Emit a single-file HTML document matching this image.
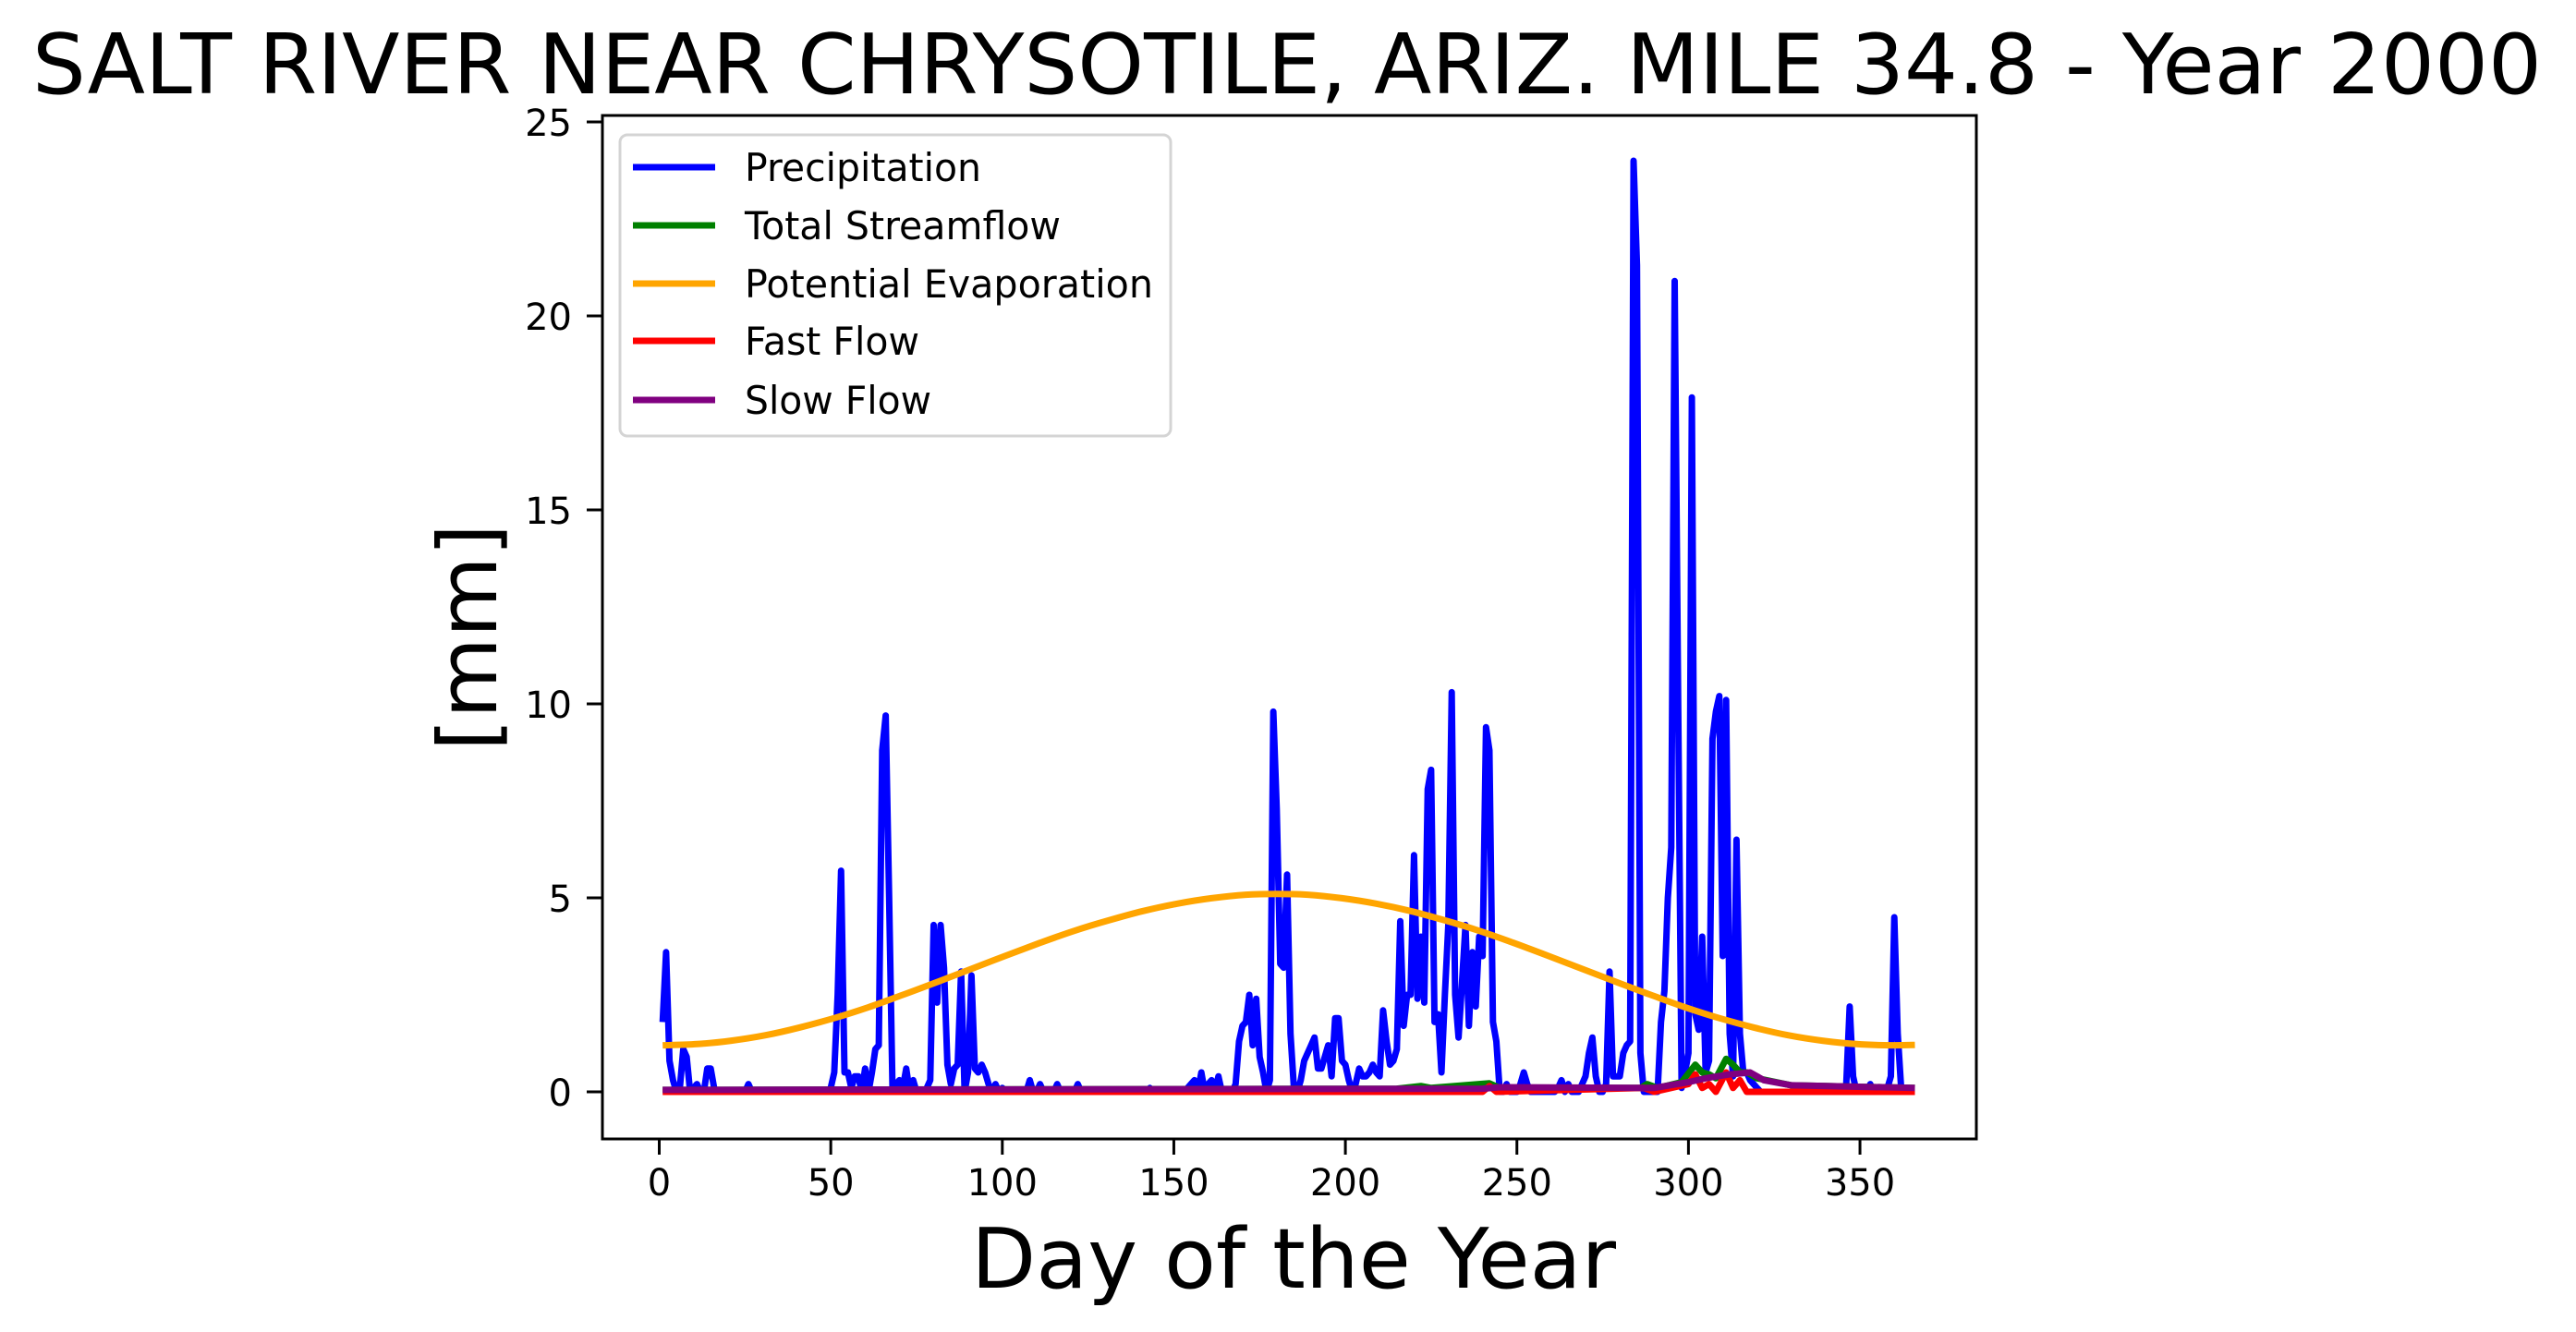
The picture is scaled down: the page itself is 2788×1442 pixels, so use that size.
<!DOCTYPE html>
<html><head><meta charset="utf-8"><style>
html,body{margin:0;padding:0;background:#fff;}
svg{display:block;font-family:"DejaVu Sans","Liberation Sans",sans-serif;}
</style></head><body>
<svg id="chart" width="2788" height="1442" viewBox="0 0 2788 1442" xmlns="http://www.w3.org/2000/svg">
<rect width="2788" height="1442" fill="#fff"/>
<text x="35" y="101" font-size="90" textLength="2716" lengthAdjust="spacingAndGlyphs">SALT RIVER NEAR CHRYSOTILE, ARIZ. MILE 34.8 - Year 2000</text>
<g id="plot"></g>
<g id="xticks"></g>
<g id="yticks"></g>
<rect x="652" y="125" width="1487" height="1108" fill="none" stroke="#000" stroke-width="3"/>
<text x="1400" y="1394" font-size="90" text-anchor="middle" textLength="698" lengthAdjust="spacingAndGlyphs">Day of the Year</text>
<text transform="translate(537,690) rotate(-90)" x="0" y="0" font-size="88" text-anchor="middle" textLength="246" lengthAdjust="spacingAndGlyphs">[mm]</text>
<g id="legend">
<rect x="671" y="146" width="596" height="326" rx="8" fill="#fff" fill-opacity="0.8" stroke="#d4d4d4" stroke-width="3"/>
<g><line x1="685" y1="181" x2="774" y2="181" stroke="#0000ff" stroke-width="7"/><text x="806" y="196" font-size="42" textLength="256" lengthAdjust="spacingAndGlyphs">Precipitation</text></g>
<g><line x1="685" y1="244" x2="774" y2="244" stroke="#008000" stroke-width="7"/><text x="806" y="259" font-size="42" textLength="342" lengthAdjust="spacingAndGlyphs">Total Streamflow</text></g>
<g><line x1="685" y1="307" x2="774" y2="307" stroke="#ffa500" stroke-width="7"/><text x="806" y="322" font-size="42" textLength="442" lengthAdjust="spacingAndGlyphs">Potential Evaporation</text></g>
<g><line x1="685" y1="369" x2="774" y2="369" stroke="#ff0000" stroke-width="7"/><text x="806" y="384" font-size="42" textLength="189" lengthAdjust="spacingAndGlyphs">Fast Flow</text></g>
<g><line x1="685" y1="433" x2="774" y2="433" stroke="#800080" stroke-width="7"/><text x="806" y="448" font-size="42" textLength="202" lengthAdjust="spacingAndGlyphs">Slow Flow</text></g>
</g>
</svg>
<script>
const precipStartDay = 1;
const precip = [
1.8,3.6,0.8,0.3,0,0.1,1.1,0.9,0,0.1,
0.2,0,0,0.6,0.6,0.1,0,0,0,0,
0,0,0,0,0,0.2,0,0,0,0,
0,0,0,0,0,0,0,0,0,0,
0,0,0,0,0,0,0,0,0,0.1,
0.5,2.5,5.7,0.5,0.5,0.1,0.4,0.4,0,0.6,
0,0.5,1.1,1.2,8.8,9.7,5.0,0,0.2,0.3,
0.1,0.6,0,0.3,0,0,0,0.1,0.3,4.3,
2.3,4.3,3.2,0.7,0.2,0.6,0.7,3.1,0,0.5,
3.0,0.6,0.5,0.7,0.5,0.2,0,0.2,0,0.1,
0,0,0,0,0,0,0,0.3,0,0,
0.2,0,0,0,0,0.2,0,0,0,0,
0,0.2,0,0,0,0,0,0,0,0,
0,0,0,0,0,0,0,0,0,0,
0,0,0.1,0,0,0,0,0,0,0,
0,0,0,0.1,0.2,0.3,0,0.5,0,0.2,
0.3,0,0.4,0,0,0,0,0.2,1.3,1.7,
1.8,2.5,1.2,2.4,0.9,0.5,0,0.3,9.8,7.3,
3.3,3.2,5.6,1.5,0.1,0,0.3,0.8,1.0,1.2,
1.4,0.6,0.6,0.9,1.2,0.4,1.9,1.9,0.8,0.7,
0.3,0,0.2,0.6,0.4,0.4,0.5,0.7,0.5,0.4,
2.1,1.3,0.7,0.8,1.1,4.4,1.7,2.5,2.5,6.1,
2.4,4.0,2.3,7.8,8.3,1.8,2.0,0.5,2.5,4.3,
10.3,2.5,1.4,2.8,4.3,1.7,3.6,2.2,4.0,3.5,
9.4,8.8,1.8,1.3,0,0,0.2,0,0,0,
0.2,0.5,0.2,0,0,0,0,0,0,0,
0,0.1,0.3,0,0.2,0,0,0,0.2,0.4,
1.0,1.4,0.4,0,0,0.2,3.1,0.4,0.4,0.4,
1.0,1.2,1.3,24.0,21.3,1.0,0,0,0,0,
0,1.8,2.6,5.0,6.3,20.9,10.0,0.1,0.5,1.0,
17.9,2.0,1.6,4.0,0.5,0.8,9.1,9.8,10.2,3.5,
10.1,1.5,0.4,6.5,1.5,0.5,0.5,0.3,0.2,0.1,
0,0,0,0,0,0,0,0,0,0,
0,0,0,0,0,0,0,0,0,0,
0,0,0,0,0,0.2,2.2,0.4,0,0,
0,0,0.2,0,0,0,0,0.1,0.4,4.5,
1.5,0.1,0,0,0,0
];
const petDays = [1,11,21,31,41,51,61,71,81,91,101,111,121,131,141,151,161,171,180,189,199,209,219,229,239,249,259,269,279,289,299,309,319,329,339,349,359,366];
const petValues = [1.20,1.23,1.32,1.46,1.66,1.90,2.18,2.50,2.83,3.17,3.51,3.84,4.15,4.42,4.66,4.85,4.99,5.08,5.10,5.08,4.99,4.85,4.66,4.42,4.15,3.84,3.51,3.17,2.83,2.50,2.18,1.90,1.66,1.46,1.32,1.23,1.20,1.21];
const totalDays = [1,215,222,225,242,245,286,288,291,298,302,304,306,308,311,313,315,317,320,330,366];
const totalValues = [0.05,0.08,0.15,0.1,0.22,0.1,0.1,0.2,0.1,0.25,0.7,0.5,0.45,0.35,0.85,0.7,0.5,0.5,0.35,0.17,0.1];
const fastDays = [1,240,242,244,287,290,300,302,304,306,308,311,313,315,317,366];
const fastValues = [0,0,0.15,0,0.1,0,0.2,0.45,0.1,0.2,0.0,0.5,0.1,0.3,0,0];
const slowDays = [1,240,245,290,300,305,312,318,322,330,366];
const slowValues = [0.05,0.08,0.12,0.1,0.25,0.35,0.45,0.5,0.3,0.17,0.1];
const xTickValues = [0,50,100,150,200,250,300,350];
const yTickValues = [0,5,10,15,20,25];

const NS = "http://www.w3.org/2000/svg";
function xScale(d){ return 713.5 + d*3.713; }
function yScale(v){ return 1182 - v*42; }

const plot = document.getElementById('plot');
function addPath(d, color, w, name){
  const p = document.createElementNS(NS,'path');
  p.setAttribute('d', d);
  p.setAttribute('fill','none');
  p.setAttribute('stroke', color);
  p.setAttribute('stroke-width', w);
  p.setAttribute('stroke-linejoin','round');
  p.setAttribute('stroke-linecap','butt');
  
  
  plot.appendChild(p);
}
function polyline(days, vals){
  return days.map((d,i)=>(i?'L':'M')+xScale(d).toFixed(1)+','+yScale(vals[i]).toFixed(1)).join(' ');
}
function smooth(days, vals){
  const pts = days.map((d,i)=>[xScale(d), yScale(vals[i])]);
  let s = 'M'+pts[0][0]+','+pts[0][1];
  for(let i=0;i<pts.length-1;i++){
    const p0=pts[Math.max(i-1,0)], p1=pts[i], p2=pts[i+1], p3=pts[Math.min(i+2,pts.length-1)];
    const c1=[p1[0]+(p2[0]-p0[0])/6, p1[1]+(p2[1]-p0[1])/6];
    const c2=[p2[0]-(p3[0]-p1[0])/6, p2[1]-(p3[1]-p1[1])/6];
    s += ' C'+c1[0].toFixed(1)+','+c1[1].toFixed(1)+' '+c2[0].toFixed(1)+','+c2[1].toFixed(1)+' '+p2[0].toFixed(1)+','+p2[1].toFixed(1);
  }
  return s;
}
const pDays = precip.map((v,i)=>precipStartDay+i);
addPath(polyline(pDays, precip), '#0000ff', 7, 'precipitation-line');
addPath(polyline(totalDays, totalValues), '#008000', 7, 'total-streamflow-line');
addPath(smooth(petDays, petValues), '#ffa500', 7, 'potential-evaporation-line');
addPath(polyline(fastDays, fastValues), '#ff0000', 7, 'fast-flow-line');
addPath(polyline(slowDays, slowValues), '#800080', 7, 'slow-flow-line');

const xg = document.getElementById('xticks');
xTickValues.forEach(t=>{
  const x = xScale(t);
  const l = document.createElementNS(NS,'line');
  l.setAttribute('x1',x); l.setAttribute('x2',x); l.setAttribute('y1',1233); l.setAttribute('y2',1250);
  l.setAttribute('stroke','#000'); l.setAttribute('stroke-width',3);
  
  
  xg.appendChild(l);
  const tx = document.createElementNS(NS,'text');
  tx.setAttribute('x',x); tx.setAttribute('y',1294);
  tx.setAttribute('font-size',40); tx.setAttribute('text-anchor','middle');
  tx.textContent = t;
  
  
  xg.appendChild(tx);
});
const yg = document.getElementById('yticks');
yTickValues.forEach(t=>{
  const y = yScale(t);
  const l = document.createElementNS(NS,'line');
  l.setAttribute('x1',635); l.setAttribute('x2',652); l.setAttribute('y1',y); l.setAttribute('y2',y);
  l.setAttribute('stroke','#000'); l.setAttribute('stroke-width',3);
  
  
  yg.appendChild(l);
  const tx = document.createElementNS(NS,'text');
  tx.setAttribute('x',619); tx.setAttribute('y',y+15);
  tx.setAttribute('font-size',40); tx.setAttribute('text-anchor','end');
  tx.textContent = t;
  
  
  yg.appendChild(tx);
});
</script>
</body></html>
